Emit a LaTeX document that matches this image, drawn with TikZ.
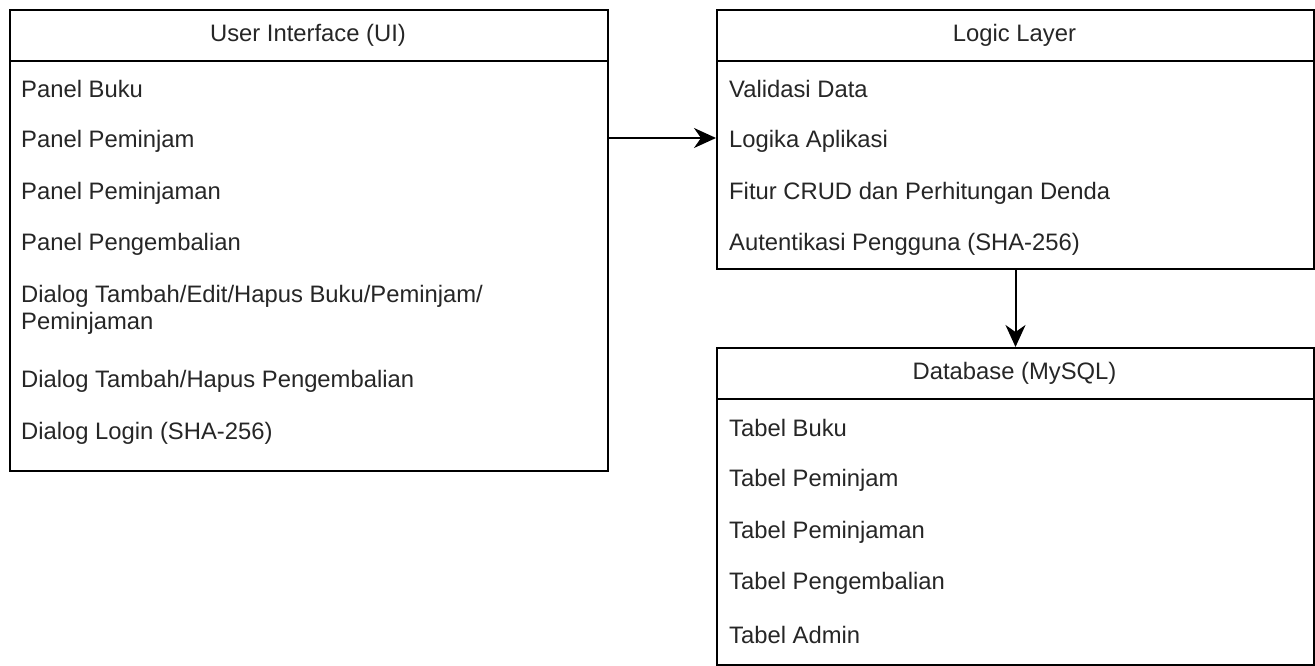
\documentclass[tikz,border=0pt]{standalone}
\usepackage{fontspec}
\setmainfont{Liberation Sans}
\usetikzlibrary{arrows.meta}
\begin{document}
\begin{tikzpicture}[x=1pt,y=-1pt,
  box/.style={draw=black,line width=2pt,fill=white,inner sep=0pt,anchor=north west},
  sep/.style={draw=black,line width=2pt},
  item/.style={anchor=west,inner sep=0pt,font=\fontsize{23.8}{27}\selectfont,text=black!85,align=left},
  head/.style={anchor=center,inner sep=0pt,font=\fontsize{23.8}{27}\selectfont,text=black!85},
  arr/.style={draw=black,line width=2pt,-{Stealth[length=22pt,width=20pt,inset=7pt]}}]
\useasboundingbox (0,0) rectangle (1315,666);
% boxes
\node[box,minimum width=598pt,minimum height=461pt] (ui) at (9,9) {};
\node[box,minimum width=597pt,minimum height=259pt] (logic) at (716,9) {};
\node[box,minimum width=597pt,minimum height=317pt] (db) at (716,347) {};
\draw[sep] (9,61) -- (607,61);
\draw[sep] (716,61) -- (1313,61);
\draw[sep] (716,399) -- (1313,399);
% headers
\node[head] (uih) at (308,35) {User Interface (UI)};
\node[head] (logich) at (1014.5,35) {Logic Layer};
\node[head] (dbh) at (1014.5,373) {Database (MySQL)};
% UI items
\node[item] (u1) at (21,89) {Panel Buku};
\node[item] (u2) at (21,141) {Panel Peminjam};
\node[item] (u3) at (21,193) {Panel Peminjaman};
\node[item] (u4) at (21,244) {Panel Pengembalian};
\node[item] (u5) at (21,310) {Dialog Tambah/Edit/Hapus Buku/Peminjam/\\Peminjaman};
\node[item] (u6) at (21,381) {Dialog Tambah/Hapus Pengembalian};
\node[item] (u7) at (21,433) {Dialog Login (SHA-256)};
% logic items
\node[item] (l1) at (729,89) {Validasi Data};
\node[item] (l2) at (729,141) {Logika Aplikasi};
\node[item] (l3) at (729,193) {Fitur CRUD dan Perhitungan Denda};
\node[item] (l4) at (729,244) {Autentikasi Pengguna (SHA-256)};
% db items
\node[item] (d1) at (729,428) {Tabel Buku};
\node[item] (d2) at (729,480) {Tabel Peminjam};
\node[item] (d3) at (729,532) {Tabel Peminjaman};
\node[item] (d4) at (729,583) {Tabel Pengembalian};
\node[item] (d5) at (729,635) {Tabel Admin};
% connectors
\coordinate (a1) at (607,138);
\draw[arr] (ui.east |- a1) -- (logic.west |- a1);
\draw[arr] (logic.south) -- (db.north);
\end{tikzpicture}
\end{document}
